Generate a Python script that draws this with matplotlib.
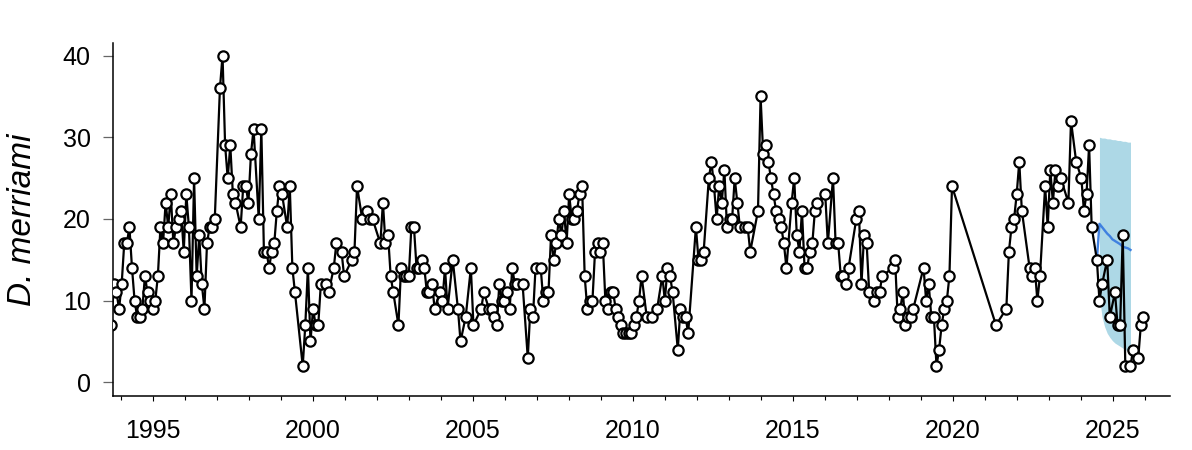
import numpy as np
import pandas as pd
import matplotlib
matplotlib.use("Agg")
import matplotlib.pyplot as plt
import matplotlib.dates as mdates

plt.rcParams['font.family'] = ['Liberation Sans', 'DejaVu Sans']

# Observed D. merriami counts per census, indexed by new moon
# (moon 0 = new moon of 1995-01-01)
obs_moon = [-16, -15, -14, -13, -12, -11, -10, -9, -8, -7, -6, -5, -4, -3, -2, -1,
            0, 1, 2, 3, 4, 5, 6, 7, 8, 9, 10, 11, 12, 13, 14, 15, 16, 17, 18, 19,
            20, 21, 22, 23, 24, 26, 27, 28, 29, 30, 31, 32, 34, 35, 36, 37, 38, 39,
            41, 42, 43, 44, 45, 46, 47, 48, 49, 50, 52, 53, 54, 55, 58, 59, 60, 61,
            62, 63, 64, 65, 67, 68, 70, 71, 73, 74, 77, 78, 79, 81, 83, 84, 85, 88,
            89, 90, 91, 92, 93, 95, 96, 97, 98, 99, 100, 101, 102, 103, 104, 105,
            106, 107, 108, 109, 111, 112, 113, 114, 116, 118, 119, 121, 123, 124,
            127, 128, 130, 131, 132, 133, 134, 135, 136, 137, 138, 139, 140, 141,
            143, 145, 146, 147, 148, 150, 151, 152, 153, 154, 155, 156, 157, 158,
            159, 160, 161, 162, 163, 164, 165, 166, 167, 168, 169, 170, 171, 172,
            173, 174, 175, 176, 177, 178, 179, 180, 181, 182, 183, 184, 185, 186,
            187, 188, 189, 191, 193, 195, 197, 198, 199, 200, 201, 203, 204, 205,
            206, 207, 210, 211, 212, 213, 215, 216, 217, 218, 219, 220, 221, 222,
            223, 224, 225, 226, 227, 229, 230, 231, 234, 235, 236, 237, 238, 239,
            240, 241, 242, 243, 244, 245, 247, 248, 249, 250, 251, 252, 253, 254,
            255, 256, 257, 260, 261, 263, 264, 265, 266, 267, 268, 269, 272, 273,
            274, 275, 276, 277, 279, 280, 281, 282, 286, 287, 288, 289, 290, 291,
            292, 293, 294, 298, 299, 300, 301, 302, 303, 304, 305, 306, 307, 308,
            309, 326, 330, 331, 332, 333, 334, 335, 336, 339, 340, 341, 342, 343,
            345, 346, 347, 348, 349, 350, 351, 354, 355, 357, 359, 360, 361, 362,
            363, 365, 366, 367, 369, 370, 372, 373, 374, 375, 376, 378, 379, 381,
            382, 383]
obs_count = [7, 12, 11, 9, 12, 17, 17, 19, 14, 10, 8, 8, 9, 13, 11, 10,
             9, 10, 13, 19, 17, 22, 19, 23, 17, 19, 20, 21, 16, 23, 19, 10, 25, 13, 18, 12,
             9, 17, 19, 19, 20, 36, 40, 29, 25, 29, 23, 22, 19, 24, 24, 22, 28, 31,
             20, 31, 16, 16, 14, 16, 17, 21, 24, 23, 19, 24, 14, 11, 2, 7, 14, 5,
             9, 7, 7, 12, 12, 11, 14, 17, 16, 13, 15, 16, 24, 20, 21, 20, 20, 17,
             22, 17, 18, 13, 11, 7, 14, 13, 13, 13, 19, 19, 14, 14, 15, 14,
             11, 11, 12, 9, 11, 10, 14, 9, 15, 9, 5, 8, 14, 7,
             9, 11, 9, 9, 8, 7, 12, 10, 10, 11, 9, 14, 12, 12,
             12, 3, 9, 8, 14, 14, 10, 11, 11, 18, 15, 17, 20, 18,
             21, 17, 23, 20, 20, 21, 23, 24, 13, 9, 10, 10, 16, 17,
             16, 17, 10, 9, 11, 11, 9, 8, 7, 6, 6, 6, 6, 7,
             8, 10, 13, 8, 8, 9, 13, 10, 14, 13, 11, 4, 9, 8,
             8, 6, 19, 15, 15, 16, 25, 27, 24, 20, 24, 22, 26, 19,
             20, 20, 25, 22, 19, 19, 19, 16, 21, 35, 28, 29, 27, 25,
             23, 21, 20, 19, 17, 14, 22, 25, 18, 16, 21, 14, 14, 16,
             17, 21, 22, 23, 17, 25, 17, 17, 13, 13, 12, 14, 20, 21,
             12, 18, 17, 11, 10, 11, 11, 13, 14, 15, 8, 9, 11, 7,
             8, 8, 9, 14, 10, 12, 8, 8, 2, 4, 7, 9, 10, 13,
             24, 7, 9, 16, 19, 20, 23, 27, 21, 14, 13, 14, 10, 13,
             24, 19, 26, 22, 26, 24, 25, 22, 32, 27, 25, 21, 23, 29,
             19, 15, 10, 12, 15, 8, 11, 7, 7, 18, 2, 2, 4, 3,
             7, 8]

# Forecast from the last fitted census (moon 365)
fc_moon = list(range(366, 379))
fc_mean = [19.4, 19.0, 18.6, 18.2, 17.9, 17.5, 17.3, 17.1, 16.9, 16.6, 16.5, 16.4, 16.2]
fc_lower = [10.5, 8.0, 6.8, 6.0, 5.5, 5.1, 4.8, 4.6, 4.4, 4.2, 4.0, 3.8, 3.7]
fc_upper = [30.0, 29.9, 29.9, 29.8, 29.8, 29.7, 29.7, 29.6, 29.6, 29.5, 29.5, 29.4, 29.4]
last_fit_moon = 365

LUNAR_DAYS = 29.530589
origin = pd.Timestamp('1995-01-01')


def moon_date(m):
    return origin + pd.to_timedelta(np.asarray(m, dtype=float) * LUNAR_DAYS, unit='D')


obs_dates = moon_date(obs_moon)
fc_dates = moon_date(fc_moon)
anchor_val = obs_count[obs_moon.index(last_fit_moon)]
line_dates = moon_date([last_fit_moon] + fc_moon)
line_vals = [anchor_val] + fc_mean

fig, ax = plt.subplots(figsize=(11.92, 4.5), dpi=100)
fig.subplots_adjust(left=0.0951, right=0.9815, bottom=0.12, top=0.9038)

ax.fill_between(fc_dates, fc_lower, fc_upper, color='#ADD8E6', lw=0, zorder=1)
ax.plot(line_dates, line_vals, color='#3F80E0', lw=1.7, zorder=2)
ax.plot(obs_dates, obs_count, color='black', lw=1.6, marker='o', ms=7.4,
        mfc='white', mec='black', mew=1.6, zorder=3)

ax.set_xlim(pd.Timestamp('1993-10-09'), pd.Timestamp('2026-10-18'))
ax.set_ylim(-1.68, 41.5)
ax.set_yticks([0, 10, 20, 30, 40])

ax.xaxis.set_major_locator(mdates.YearLocator(5))
ax.xaxis.set_minor_locator(mdates.YearLocator(1))
ax.xaxis.set_major_formatter(mdates.DateFormatter('%Y'))

ax.tick_params(axis='x', which='major', length=3.8, width=0.8, labelsize=18, pad=13)
ax.tick_params(axis='x', which='minor', length=2.6, width=0.8)
ax.tick_params(axis='y', length=7.2, width=0.9, color='#666666', labelsize=18, pad=9)

for side in ['top', 'right']:
    ax.spines[side].set_visible(False)
for side in ['left', 'bottom']:
    ax.spines[side].set_linewidth(1.1)

ax.set_ylabel('D. merriami', fontsize=24, fontstyle='italic', va='center')
ax.yaxis.set_label_coords(-0.0864, 0.5)

fig.savefig('out.png', dpi=100)
